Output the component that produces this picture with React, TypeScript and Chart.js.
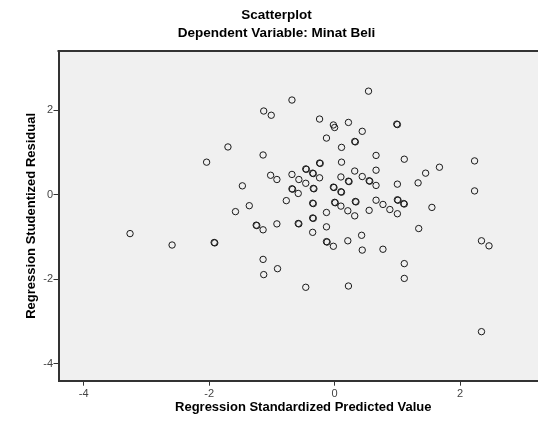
import React, { useEffect, useRef } from "react";
import { Chart, registerables } from "chart.js";

Chart.register(...registerables);

const titleText = "Scatterplot";
const subtitleText = "Dependent Variable: Minat Beli";
const xAxisTitle = "Regression Standardized Predicted Value";
const yAxisTitle = "Regression Studentized Residual";
const xTicks = [-4, -2, 0, 2];
const yTicks = [-4, -2, 0, 2];
const xRange = [-4.4, 3.4];
const yRange = [-4.4, 3.4];

// Regression Standardized Predicted Value (x)
const predicted = [
  0.54, -0.68, -1.13, -1.01, -0.24, -0.02, 0.0, 0.22, 0.99, 1.0,
  0.44, -0.13, 0.32, 0.33, 0.11, -1.14, 0.66, 1.11, -0.24, -0.23,
  0.11, -0.46, -0.45, -0.35, -0.34, 0.32, 0.66, -1.02, -0.92, -0.68,
  -0.57, -0.46, -0.24, 0.1, 0.22, 0.23, 0.44, 0.55, 0.56, 0.66,
  1.0, 1.33, 2.23, 1.67, 1.45, 2.23, -0.68, -0.67, -0.58, -0.34,
  -0.33, -0.02, -0.01, 0.1, 0.11, -0.77, -1.36, -1.58, -0.35, -0.34,
  0.0, 0.01, 0.1, 0.21, 0.33, 0.34, 0.32, -0.13, 0.55, 0.66,
  0.77, 0.88, 1.0, 1.01, 1.1, 1.11, 1.0, 1.55, 1.34, -1.25,
  -1.24, -1.14, -0.92, -0.58, -0.57, -0.35, -0.34, -0.13, -0.35, 0.43,
  -0.13, -0.12, -0.02, 0.21, 0.44, 0.77, -1.14, -1.13, -0.91, -0.46,
  0.22, 1.11, 1.11, 2.34, 2.46, 2.34, -3.26, -2.59, -1.92, -1.91,
  -1.7, -2.04, -1.47,
];

// Regression Studentized Residual (y)
const residual = [
  2.45, 2.24, 1.98, 1.88, 1.79, 1.65, 1.59, 1.71, 1.67, 1.66,
  1.5, 1.34, 1.26, 1.25, 1.12, 0.94, 0.93, 0.84, 0.75, 0.74,
  0.77, 0.61, 0.6, 0.51, 0.5, 0.56, 0.58, 0.46, 0.36, 0.48,
  0.36, 0.27, 0.4, 0.42, 0.32, 0.31, 0.43, 0.33, 0.32, 0.22,
  0.25, 0.28, 0.8, 0.65, 0.51, 0.09, 0.14, 0.13, 0.03, 0.15,
  0.14, 0.18, 0.17, 0.07, 0.06, -0.14, -0.26, -0.4, -0.2, -0.21,
  -0.18, -0.19, -0.27, -0.38, -0.16, -0.17, -0.5, -0.42, -0.37, -0.13,
  -0.23, -0.35, -0.12, -0.13, -0.21, -0.22, -0.45, -0.3, -0.8, -0.72,
  -0.73, -0.83, -0.69, -0.68, -0.69, -0.55, -0.56, -0.76, -0.89, -0.96,
  -1.11, -1.12, -1.22, -1.09, -1.31, -1.29, -1.53, -1.89, -1.75, -2.19,
  -2.16, -1.63, -1.98, -1.09, -1.21, -3.24, -0.92, -1.19, -1.13, -1.14,
  1.13, 0.77, 0.21,
];

const FONT = "Arial, 'Liberation Sans', sans-serif";
const AXIS_COLOR = "#333333";

const plotFrame = {
  id: "plotFrame",
  beforeDraw(chart: any) {
    const { ctx, chartArea } = chart;
    const { left, top, right, bottom } = chartArea;
    ctx.save();
    ctx.fillStyle = "#f0f0f0";
    ctx.fillRect(left, top, right - left, bottom - top);
    ctx.restore();
  },
  afterDraw(chart: any) {
    const { ctx, chartArea } = chart;
    const { left, top, right } = chartArea;
    ctx.save();
    ctx.strokeStyle = AXIS_COLOR;
    ctx.lineWidth = 2;
    ctx.beginPath();
    ctx.moveTo(left - 1, top);
    ctx.lineTo(right, top);
    ctx.stroke();
    ctx.restore();
  },
};

export default function App() {
  const canvasRef = useRef<HTMLCanvasElement | null>(null);

  useEffect(() => {
    const canvas = canvasRef.current;
    if (!canvas) return;
    const points = predicted.map((x, i) => ({ x, y: residual[i] }));
    const chart = new Chart(canvas, {
      type: "scatter",
      data: {
        datasets: [
          {
            data: points,
            pointRadius: 3.2,
            pointBorderWidth: 1,
            borderColor: "#1a1a1a",
            backgroundColor: "rgba(0,0,0,0)",
            pointStyle: "circle",
          },
        ],
      },
      plugins: [plotFrame],
      options: {
        responsive: false,
        maintainAspectRatio: false,
        animation: false,
        events: [],
        layout: { padding: 0 },
        plugins: {
          legend: { display: false },
          tooltip: { enabled: false },
          title: {
            display: true,
            text: titleText,
            color: "#000",
            font: { family: FONT, size: 13.5, weight: "bold", lineHeight: 1.2 },
            padding: { top: 6.9, bottom: 2.2 },
          },
          subtitle: {
            display: true,
            text: subtitleText,
            color: "#000",
            font: { family: FONT, size: 13.5, weight: "bold", lineHeight: 1.2 },
            padding: { top: 0, bottom: 9.5 },
          },
        },
        scales: {
          x: {
            type: "linear",
            position: "bottom",
            min: xRange[0],
            max: xRange[1],
            afterBuildTicks: (scale: any) => {
              scale.ticks = xTicks.map((v) => ({ value: v }));
            },
            afterFit: (scale: any) => {
              scale.height = 43.3;
            },
            grid: {
              drawOnChartArea: false,
              drawTicks: true,
              tickLength: 5,
              color: AXIS_COLOR,
              lineWidth: 1,
            },
            border: { display: true, color: AXIS_COLOR, width: 2 },
            ticks: {
              autoSkip: false,
              maxRotation: 0,
              color: "#444",
              padding: 2,
              font: { family: FONT, size: 11 },
              callback: (v: any) => String(v),
            },
            title: {
              display: true,
              text: xAxisTitle,
              color: "#000",
              font: { family: FONT, size: 13, weight: "bold", lineHeight: 1.2 },
              padding: { top: 0, bottom: 9 },
            },
          },
          y: {
            type: "linear",
            position: "left",
            min: yRange[0],
            max: yRange[1],
            afterBuildTicks: (scale: any) => {
              scale.ticks = yTicks.map((v) => ({ value: v }));
            },
            afterFit: (scale: any) => {
              scale.width = 58.5;
            },
            grid: {
              drawOnChartArea: false,
              drawTicks: true,
              tickLength: 5,
              color: AXIS_COLOR,
              lineWidth: 1,
            },
            border: { display: true, color: AXIS_COLOR, width: 2 },
            ticks: {
              autoSkip: false,
              minRotation: 0,
              maxRotation: 0,
              color: "#444",
              padding: 0.5,
              font: { family: FONT, size: 11 },
              callback: (v: any) => String(v),
            },
            title: {
              display: true,
              text: yAxisTitle,
              color: "#000",
              font: { family: FONT, size: 13, weight: "bold", lineHeight: 1.2 },
              padding: { top: 24, bottom: 0 },
            },
          },
        },
      } as any,
    });
    return () => chart.destroy();
  }, []);

  return (
    <div
      style={{
        position: "fixed",
        left: 0,
        top: 0,
        width: 538,
        height: 424,
        overflow: "hidden",
        background: "#fff",
      }}
    >
      <canvas
        ref={canvasRef}
        width={553}
        height={424}
        style={{ display: "block", width: 553, height: 424 }}
      />
    </div>
  );
}
